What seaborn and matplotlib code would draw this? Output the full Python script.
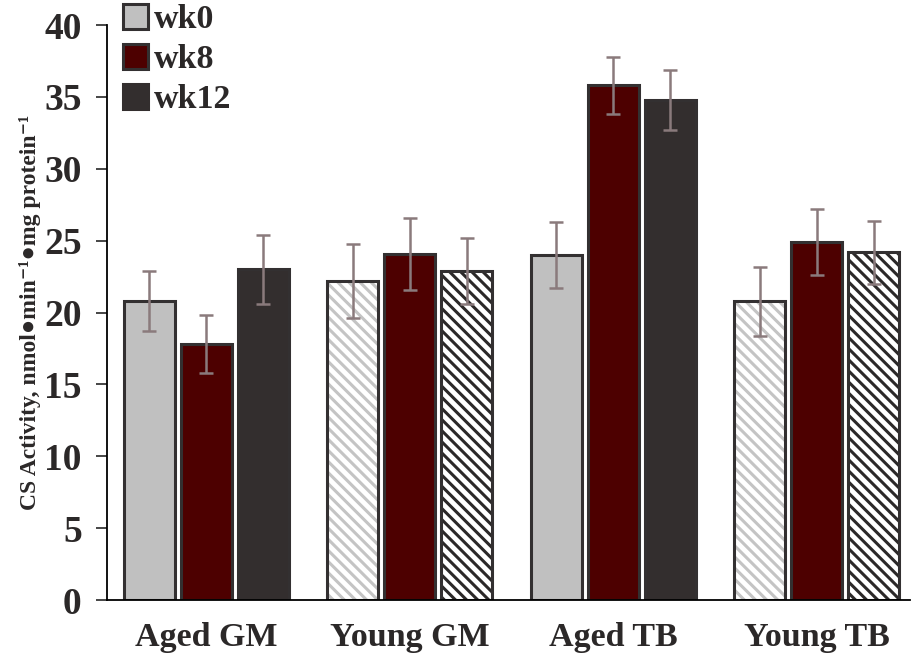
import matplotlib
matplotlib.use("Agg")
import matplotlib.pyplot as plt
from matplotlib.patches import Patch, Rectangle
import seaborn as sns
import pandas as pd

# Citrate synthase activity by group and time point
groups = ["Aged GM", "Young GM", "Aged TB", "Young TB"]
weeks = ["wk0", "wk8", "wk12"]
wk0_mean = [20.8, 22.2, 24.0, 20.8]
wk8_mean = [17.8, 24.1, 35.8, 24.9]
wk12_mean = [23.0, 22.9, 34.8, 24.2]
wk0_err = [2.1, 2.6, 2.3, 2.4]
wk8_err = [2.0, 2.5, 2.0, 2.3]
wk12_err = [2.4, 2.3, 2.1, 2.2]
yticks = [0, 5, 10, 15, 20, 25, 30, 35, 40]

means = {"wk0": wk0_mean, "wk8": wk8_mean, "wk12": wk12_mean}
errs = {"wk0": wk0_err, "wk8": wk8_err, "wk12": wk12_err}
df = pd.DataFrame(
    [(g, w, means[w][i]) for w in weeks for i, g in enumerate(groups)],
    columns=["group", "week", "cs"],
)

colors = {"wk0": "#c0c0c0", "wk8": "#4d0000", "wk12": "#332e2e"}
edge = "#333031"
err_color = "#8a7a7c"
text_color = "#2b2828"

sns.set_style("ticks")
plt.rcParams["font.family"] = ["Liberation Serif", "DejaVu Sans"]
plt.rcParams["font.weight"] = "bold"
plt.rcParams["hatch.linewidth"] = 2.2

fig = plt.figure(figsize=(9.12, 6.59), dpi=100)
ax = fig.add_axes([0.117, 0.0895, 0.881, 0.8725])

sns.barplot(
    data=df, x="group", y="cs", hue="week", order=groups, hue_order=weeks,
    palette=colors, saturation=1, errorbar=None, width=0.84, gap=0.1,
    edgecolor=edge, linewidth=2.2, legend=False, ax=ax,
)

young = [i for i, g in enumerate(groups) if g.startswith("Young")]
hatch_colors = {"wk0": "#c4c4c4", "wk12": "#2b2828"}

for week, cont in zip(weeks, ax.containers):
    xs = [b.get_x() + b.get_width() / 2 for b in cont]
    hs = [b.get_height() for b in cont]
    ax.errorbar(xs, hs, yerr=errs[week], fmt="none", ecolor=err_color,
                elinewidth=1.8, capsize=5, capthick=1.8, zorder=5)
    if week in hatch_colors:
        for i in young:
            b = cont[i]
            b.set_facecolor("white")
            b.set_edgecolor(hatch_colors[week])
            b.set_hatch("\\\\\\")
            b.set_linewidth(0)
            ax.add_patch(Rectangle((b.get_x(), b.get_y()), b.get_width(),
                                   b.get_height(), fill=False, edgecolor=edge,
                                   linewidth=2.2, zorder=b.get_zorder() + 0.1))

ax.set_xlim(-0.49, 3.46)
ax.set_ylim(0, 40)
ax.set_yticks(yticks)
ax.set_yticklabels([str(t) for t in yticks], fontsize=27, fontweight="bold",
                   color=text_color)
ax.tick_params(axis="y", length=8, width=1.2, direction="out", pad=10)
ax.tick_params(axis="x", length=0, pad=16)
ax.set_xticks(range(len(groups)))
ax.set_xticklabels(groups, fontsize=24.5, fontweight="bold", color=text_color)
ax.set_xlabel("")
ax.set_ylabel("CS Activity, nmol●min⁻¹●mg protein⁻¹",
              fontsize=17, fontweight="bold", color=text_color, labelpad=2)
sns.despine(ax=ax)
for s in ("left", "bottom"):
    ax.spines[s].set_linewidth(1.3)
    ax.spines[s].set_color("black")

handles = [
    Patch(facecolor=colors["wk0"], edgecolor=edge, linewidth=2.2, label="wk0"),
    Patch(facecolor=colors["wk8"], edgecolor=edge, linewidth=2.2, label="wk8"),
    Patch(facecolor=colors["wk12"], edgecolor=colors["wk12"], linewidth=2.2, label="wk12"),
]
ax.legend(handles=handles, loc="upper left", bbox_to_anchor=(-0.018, 1.09),
          frameon=False, handlelength=0.75, handleheight=0.75, handletextpad=0.15,
          labelspacing=0.25, prop={"size": 24.5, "weight": "bold"},
          labelcolor=text_color)

fig.savefig("out.png", dpi=100)
